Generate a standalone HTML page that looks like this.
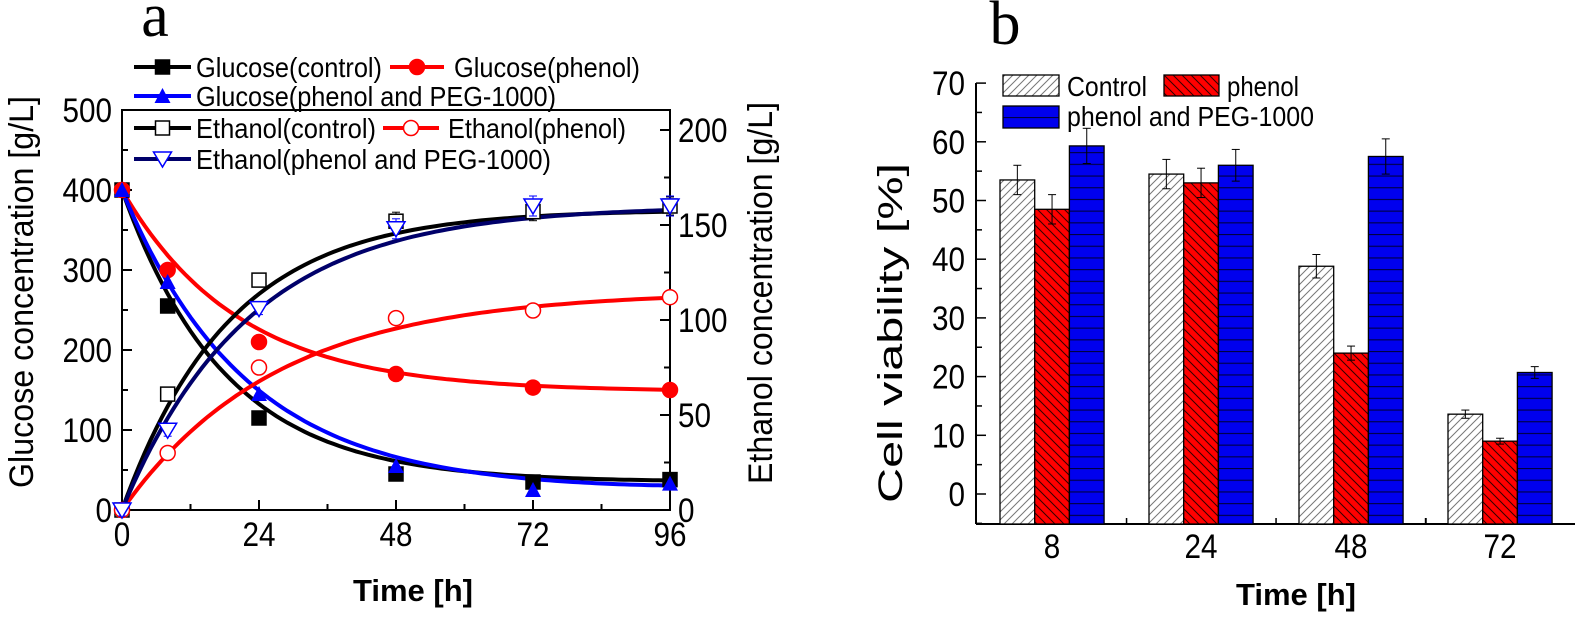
<!DOCTYPE html>
<html><head><meta charset="utf-8"><style>
html,body{margin:0;padding:0;background:#fff;}
svg{display:block;font-family:"Liberation Sans",Arial,sans-serif;}
</style></head><body>
<svg id="s" width="1575" height="618" viewBox="0 0 1575 618" xmlns="http://www.w3.org/2000/svg">
<defs>
<pattern id="hc" patternUnits="userSpaceOnUse" width="8" height="8"><rect width="8" height="8" fill="#fff"/><path d="M-2,10 L10,-2 M-2,2 L2,-2 M6,10 L10,6" stroke="#777" stroke-width="1"/></pattern>
<pattern id="hp" patternUnits="userSpaceOnUse" width="9" height="9"><rect width="9" height="9" fill="#f00"/><path d="M-2,-2 L11,11 M-2,7 L2,11 M7,-2 L11,2" stroke="#300" stroke-width="1"/></pattern>
<pattern id="hb" patternUnits="userSpaceOnUse" width="10" height="11.7"><rect width="10" height="11.7" fill="#0000ee"/><path d="M0,0.5 L10,0.5" stroke="#000040" stroke-width="1.2"/></pattern>
</defs>
<g id="g"></g>
</svg>
<script>
var g=document.getElementById('g'),o='';
var SA='lengthAdjust="spacingAndGlyphs" ';
function L(x1,y1,x2,y2,c,w){o+='<line x1="'+x1+'" y1="'+y1+'" x2="'+x2+'" y2="'+y2+'" stroke="'+(c||'#000')+'" stroke-width="'+(w||2)+'"/>';}
function T(x,y,t,s,a,ex){o+='<text x="'+x+'" y="'+y+'" font-size="'+s+'" text-anchor="'+(a||'start')+'" '+(ex||'')+'>'+t+'</text>';}
function NL(s){return SA+'textLength="'+(String(s).length*16.5)+'"';}
// ===== Panel a =====
var X=function(t){return 122+t*548/96;}, YG=function(v){return 510-v*0.8;}, YE=function(v){return 510-v*1.9;};
T(155,36,'a',62,'middle','font-family="Liberation Serif,serif"');
o+='<rect x="122" y="110" width="548" height="400" fill="none" stroke="#000" stroke-width="2"/>';
for(var v=0;v<=500;v+=50){var y=YG(v);L(122,y,v%100?128:132,y);if(v%100==0)T(112,y+12,v,34,'end',NL(v));}
for(var t=0;t<=96;t+=12){var x=X(t);L(x,510,x,t%24?504:500);if(t%24==0)T(x,546,t,34,'middle',NL(t));}
for(var v=0;v<=200;v+=25){var y=YE(v);L(670,y,v%50?664:660,y);if(v%50==0)T(678,y+12,v,34,'start',NL(v));}
T(0,0,'Glucose concentration [g/L]',34,'middle','transform="translate(33,292) rotate(-90)" '+SA+'textLength="392"');
T(0,0,'Ethanol concentration [g/L]',34,'middle','transform="translate(772,293) rotate(-90)" '+SA+'textLength="382"');
T(413,601,'Time [h]',31,'middle','font-weight="bold"');
function curve(f,Y,c){var d='';for(var t=0;t<=96;t+=1){d+=(t?'L':'M')+X(t).toFixed(1)+','+Y(f(t)).toFixed(1);}o+='<path d="'+d+'" fill="none" stroke="'+c+'" stroke-width="4"/>';}
var ts=[0,8,24,48,72,96];
var gc=[400,255,115,45,35,38],gp=[400,300,210,170,153,150],gb=[400,285,145,55,25,33];
var ec=[0,61,121,152,157,160],ep=[0,30,75,101,105,112],eb=[0,42,106,148,160,160];
curve(function(t){return 35+365*Math.exp(-0.055*t)},YG,'#000');
curve(function(t){return 148+252*Math.exp(-0.049*t)},YG,'#f00');
curve(function(t){return 25+375*Math.exp(-0.046*t)+0.0015*Math.max(0,t-70)*Math.max(0,t-70)},YG,'#00f');
curve(function(t){return 158*(1-Math.exp(-0.053*t))},YE,'#000');
curve(function(t){return 115*(1-Math.exp(-0.037*t))},YE,'#f00');
curve(function(t){return 160*(1-Math.exp(-0.045*t))},YE,'#00006a');
function sq(x,y,f,c){o+='<rect x="'+(x-7)+'" y="'+(y-7)+'" width="14" height="14" fill="'+(f?c:'#fff')+'" stroke="'+c+'" stroke-width="1.5"/>';}
function ci(x,y,f,c){o+='<circle cx="'+x+'" cy="'+y+'" r="7.5" fill="'+(f?c:'#fff')+'" stroke="'+c+'" stroke-width="1.5"/>';}
function tu(x,y,c){o+='<path d="M'+(x-8)+','+(y+7)+' L'+(x+8)+','+(y+7)+' L'+x+','+(y-8)+'Z" fill="'+c+'"/>';}
function td(x,y,c){o+='<path d="M'+(x-9)+','+(y-7)+' L'+(x+9)+','+(y-7)+' L'+x+','+(y+8)+'Z" fill="#fff" stroke="'+c+'" stroke-width="1.5"/>';}
function eb_(x,y,e,c){L(x,y-e,x,y+e,c,1);L(x-4,y-e,x+4,y-e,c,1);L(x-4,y+e,x+4,y+e,c,1);}
for(var i=0;i<6;i++){var x=X(ts[i]);
eb_(x,YE(ec[i]),i>2?9:6,'#000');sq(x,YE(ec[i]),0,'#000');
eb_(x,YE(ep[i]),6,'#f00');ci(x,YE(ep[i]),0,'#f00');
eb_(x,YE(eb[i]),i>2?10:6,'#00f');td(x,YE(eb[i]),'#00f');
eb_(x,YG(gc[i]),6,'#000');sq(x,YG(gc[i]),1,'#000');
ci(x,YG(gp[i]),1,'#f00');
tu(x,YG(gb[i]),'#00f');}
// legend a
function leg(x1,x2,y,c,m,txt,tx,tl){L(x1,y,x2,y,c,4);var mx=(x1+x2)/2;m(mx,y);T(tx,y+10,txt,28,'start',SA+'textLength="'+tl+'"');}
leg(134,191,67,'#000',function(x,y){sq(x,y,1,'#000')},'Glucose(control)',196,186);
leg(390,444,67,'#f00',function(x,y){ci(x,y,1,'#f00')},'Glucose(phenol)',454,186);
leg(134,191,96,'#00f',function(x,y){tu(x,y,'#00f')},'Glucose(phenol and PEG-1000)',196,360);
leg(134,191,128,'#000',function(x,y){sq(x,y,0,'#000')},'Ethanol(control)',196,180);
leg(383,439,128,'#f00',function(x,y){ci(x,y,0,'#f00')},'Ethanol(phenol)',448,178);
leg(134,191,159,'#00006a',function(x,y){td(x,y,'#00f')},'Ethanol(phenol and PEG-1000)',196,355);
// ===== Panel b =====
T(1005,44,'b',62,'middle','font-family="Liberation Serif,serif"');
var YB=function(v){return 494-v*5.87;};
L(976,83,976,524);L(976,524,1575,524);
for(var v=-5;v<=70;v+=5){var y=YB(v);L(976,y,v%10?982:986,y,'#000',1.5);if(v>=0&&v%10==0)T(965,y+12,v,34,'end',NL(v));}
var gs=[1000,1149,1299,1448],lab=[8,24,48,72],bw=34.7;
var vals=[[53.5,48.5,59.3],[54.5,53,56],[38.8,24,57.5],[13.6,9,20.7]],errs=[[2.5,2.5,3],[2.5,2.5,2.7],[2,1.2,3],[0.7,0.5,1]];
var fills=['url(#hc)','url(#hp)','url(#hb)'];
for(var i=0;i<4;i++){T(gs[i]+bw*1.5,558,lab[i],34,'middle',NL(lab[i]));if(i<3)L(gs[i]+bw*3+(gs[i+1]-gs[i]-bw*3)/2,524,gs[i]+bw*3+(gs[i+1]-gs[i]-bw*3)/2,518,'#000',1.5);
for(var j=0;j<3;j++){var x=gs[i]+j*bw,y=YB(vals[i][j]);o+='<rect x="'+x+'" y="'+y+'" width="'+bw+'" height="'+(524-y)+'" fill="'+fills[j]+'" stroke="#000" stroke-width="1.3"/>';
var cx=x+bw/2,e=errs[i][j]*5.87;L(cx,y-e,cx,y+e,'#000',1);L(cx-4,y-e,cx+4,y-e,'#000',1);L(cx-4,y+e,cx+4,y+e,'#000',1);}}
L(1426,524,1426,518,'#000',1.5);
o+='<rect x="1003" y="75" width="56" height="21" fill="url(#hc)" stroke="#000" stroke-width="1.3"/>';
o+='<rect x="1164" y="75" width="55" height="21" fill="url(#hp)" stroke="#000" stroke-width="1.3"/>';
o+='<rect x="1003" y="106" width="56" height="22" fill="url(#hb)" stroke="#000" stroke-width="1.3"/>';
T(1067,96,'Control',28,'start',SA+'textLength="80"');
T(1227,96,'phenol',28,'start',SA+'textLength="72"');
T(1067,126,'phenol and PEG-1000',28,'start',SA+'textLength="247"');
T(0,0,'Cell viability [%]',34,'middle','transform="translate(902,333) rotate(-90)" '+SA+'textLength="340"');
T(1296,605,'Time [h]',31,'middle','font-weight="bold"');
g.innerHTML=o;
</script>
</body></html>
